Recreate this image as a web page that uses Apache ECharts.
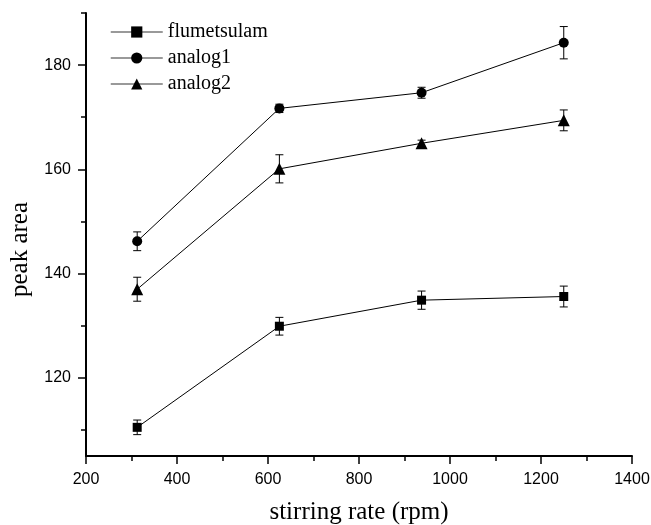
<!DOCTYPE html>
<html>
<head>
<meta charset="utf-8">
<script src="https://cdn.jsdelivr.net/npm/echarts@6/dist/echarts.min.js"></script>
<style>
html,body{margin:0;padding:0;background:#fff;}
#chart{width:651px;height:525px;}
</style>
</head>
<body>
<div id="chart"></div>
<script>
// Data
const stirringRate = [312.5, 625, 937.5, 1250];
const seriesNames = ['flumetsulam', 'analog1', 'analog2'];
const flumetsulam = [110.5, 129.9, 134.9, 135.6];
const flumetsulamErr = [1.4, 1.7, 1.75, 2.0];
const analog1 = [146.2, 171.7, 174.7, 184.3];
const analog1Err = [1.8, 0.8, 1.05, 3.1];
const analog2 = [137.0, 160.1, 165.0, 169.4];
const analog2Err = [2.3, 2.7, 0.6, 2.0];
const xTicks = [200, 400, 600, 800, 1000, 1200, 1400];
const yMajorTicks = [120, 140, 160, 180];
const yMinorTicks = [110, 130, 150, 170, 190];

const serif = 'Liberation Serif, Times New Roman, serif';
const sans = 'Liberation Sans, Arial, sans-serif';

function pairs(vals) { return stirringRate.map((x, i) => [x, vals[i]]); }
function errPairs(vals, errs) { return stirringRate.map((x, i) => [x, vals[i] - errs[i], vals[i] + errs[i]]); }

function errRender(params, api) {
  const x = api.value(0), lo = api.value(1), hi = api.value(2);
  const a = api.coord([x, lo]);
  const b = api.coord([x, hi]);
  const w = 4;
  const st = { stroke: '#000', lineWidth: 1 };
  return {
    type: 'group',
    children: [
      { type: 'line', shape: { x1: a[0], y1: a[1], x2: b[0], y2: b[1] }, style: st },
      { type: 'line', shape: { x1: a[0] - w, y1: a[1], x2: a[0] + w, y2: a[1] }, style: st },
      { type: 'line', shape: { x1: b[0] - w, y1: b[1], x2: b[0] + w, y2: b[1] }, style: st }
    ]
  };
}

const symbols = ['rect', 'circle', 'triangle'];
const sizes = [9, 10, 12];
const values = [flumetsulam, analog1, analog2];
const errs = [flumetsulamErr, analog1Err, analog2Err];

const series = [];
seriesNames.forEach((name, k) => {
  series.push({
    name: name + ' error',
    type: 'custom',
    renderItem: errRender,
    encode: { x: 0, y: [1, 2] },
    data: errPairs(values[k], errs[k]),
    silent: true,
    z: 1
  });
});
seriesNames.forEach((name, k) => {
  series.push({
    name: name,
    type: 'line',
    data: pairs(values[k]),
    symbol: symbols[k],
    symbolSize: sizes[k],
    showAllSymbol: true,
    lineStyle: { color: '#000', width: 1 },
    itemStyle: { color: '#000' },
    z: 3,
    animation: false
  });
});

const chart = echarts.init(document.getElementById('chart'), null, { renderer: 'canvas' });
chart.setOption({
  animation: false,
  backgroundColor: '#fff',
  grid: { left: 86, right: 19, top: 13, bottom: 69, containLabel: false, outerBoundsMode: 'none' },
  legend: {
    data: seriesNames,
    orient: 'vertical',
    left: 105,
    top: 17,
    itemWidth: 52,
    itemHeight: 14,
    itemGap: 6,
    textStyle: { fontFamily: serif, fontSize: 20, color: '#000' },
    lineStyle: { color: '#777', width: 1.5 }
  },
  xAxis: {
    type: 'value',
    min: 200,
    max: 1400,
    interval: 200,
    name: 'stirring rate (rpm)',
    nameLocation: 'middle',
    nameGap: 44,
    nameTextStyle: { fontFamily: serif, fontSize: 25, color: '#000' },
    axisLine: { show: true, lineStyle: { color: '#000', width: 2 } },
    axisTick: { show: true, inside: false, length: 8, lineStyle: { color: '#000', width: 1.5 } },
    minorTick: { show: true, splitNumber: 2, length: 5, lineStyle: { color: '#000', width: 1.5 } },
    axisLabel: {
      margin: 16,
      fontFamily: sans, fontSize: 16, color: '#000',
      customValues: xTicks,
      formatter: function (v) { return String(v); }
    },
    splitLine: { show: false },
    minorSplitLine: { show: false }
  },
  yAxis: [
    {
      type: 'value',
      min: 105,
      max: 190,
      position: 'left',
      offset: 0,
      name: 'peak area',
      nameLocation: 'middle',
      nameGap: 48,
      nameTextStyle: { fontFamily: serif, fontSize: 25, color: '#000', padding: [0, 30, 0, 0] },
      axisLine: { show: true, lineStyle: { color: '#000', width: 2 } },
      axisTick: { show: true, inside: false, length: 8, customValues: yMajorTicks, lineStyle: { color: '#000', width: 1.5 } },
      axisLabel: { margin: 15, fontFamily: sans, fontSize: 16, color: '#000', customValues: yMajorTicks,
        formatter: function (v) { return String(v); } },
      splitLine: { show: false }
    },
    {
      type: 'value',
      min: 105,
      max: 190,
      position: 'left',
      offset: 0,
      axisLine: { show: false },
      axisTick: { show: true, inside: false, length: 5, customValues: yMinorTicks, lineStyle: { color: '#000', width: 1.5 } },
      axisLabel: { show: false },
      splitLine: { show: false }
    }
  ],
  series: series
});
</script>
</body>
</html>
